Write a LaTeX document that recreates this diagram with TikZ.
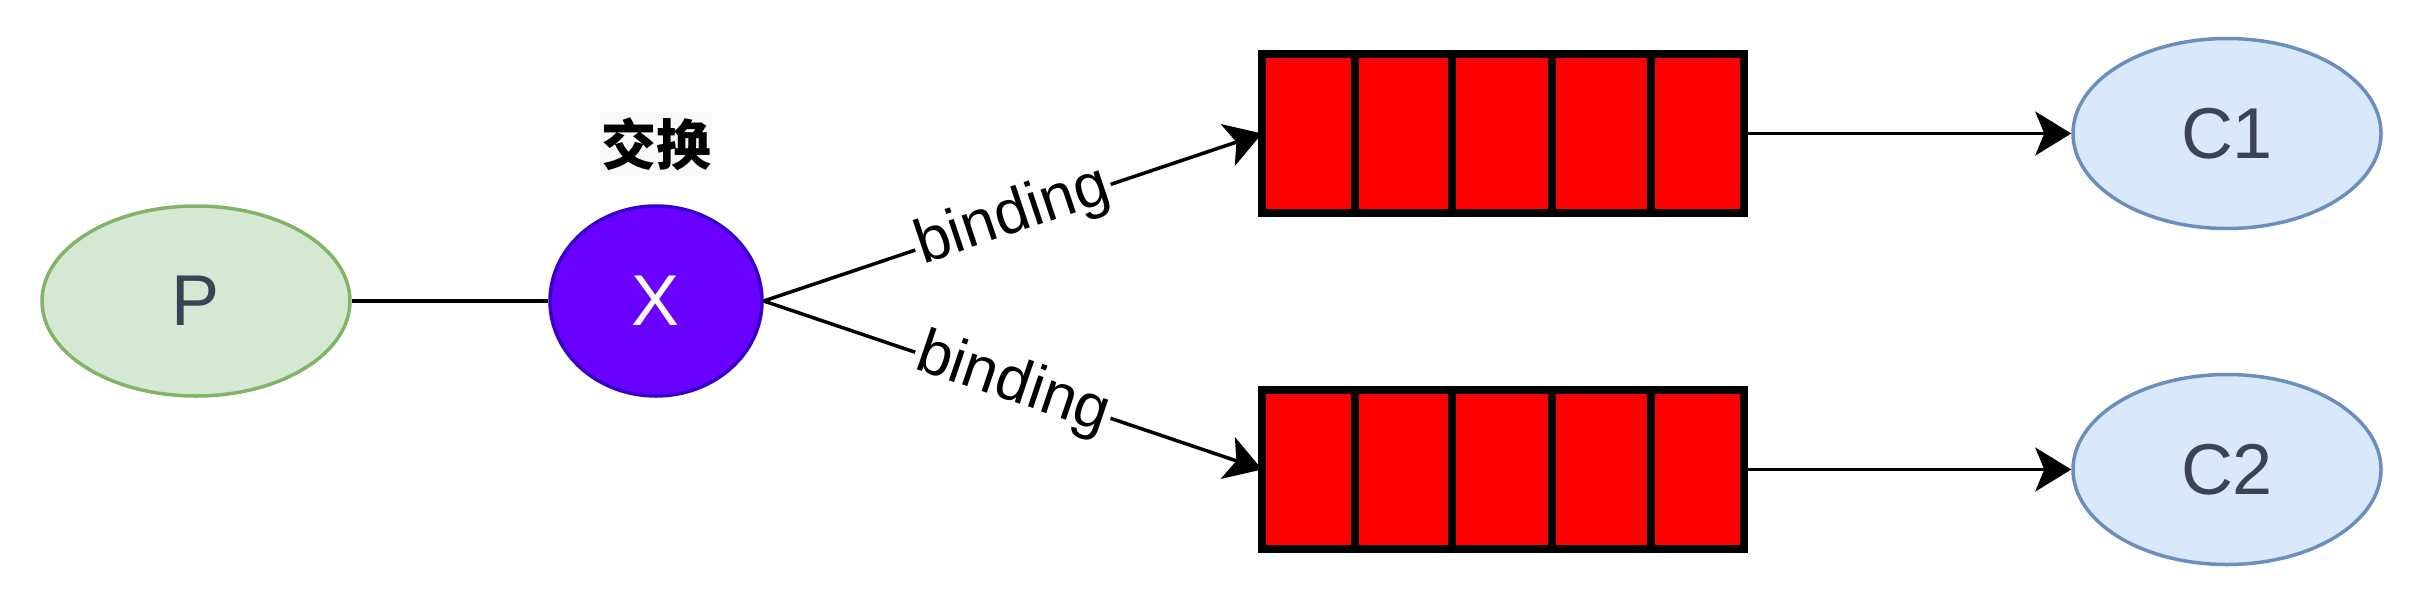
\documentclass[tikz,border=0pt]{standalone}
\usepackage{fontspec}
\setmainfont{Liberation Sans}
\newfontfamily\cjk{Noto Sans CJK SC}
\usetikzlibrary{shapes.geometric,arrows.meta}

\begin{document}
\begin{tikzpicture}[x=1pt, y=-1pt,
	ball/.style={ellipse, draw, line width=3.5pt, minimum width=308pt, minimum height=190pt, inner sep=0pt, text=slate, font=\fontsize{72}{72}\selectfont},
	link/.style={line width=3.5pt},
	tip/.style={-{Stealth[length=36pt, width=44pt, inset=9pt]}},
	tag/.style={midway, sloped, fill=white, inner sep=3pt, font=\fontsize{62}{62}\selectfont}]
	\definecolor{slate}{RGB}{58, 68, 84};
\definecolor{leaf}{RGB}{213, 232, 212};
\definecolor{leafline}{RGB}{130, 179, 102};
\definecolor{sky}{RGB}{218, 232, 252};
\definecolor{skyline}{RGB}{108, 142, 191};
\definecolor{violet}{RGB}{106, 0, 255};
\definecolor{violetline}{RGB}{55, 0, 204};
\definecolor{paper}{RGB}{248, 249, 250};

% \drawqueue#name#y
\def\drawqueue#1#2{
	\node[draw, fill=red, line width=8pt, outer sep=0pt, minimum width=482pt, minimum height=159pt] (#1) at (1503, #2) {};
	\foreach \dx in {93, 190, 290, 389}{
		\draw[line width=8pt] (#1.north west) ++(\dx, 0) -- ++(0, 159); % divider
	}
}

	\useasboundingbox (0, 0) rectangle (2428, 608);

	% producer and exchange
	\node[ball, fill=leaf, draw=leafline] (p) at (196, 301) {P};
	\node[ball, minimum width=212pt, fill=violet, draw=violetline, text=white] (x) at (656, 301) {X};
	\node[fill=paper, inner sep=0pt, minimum width=112pt, minimum height=64pt, font=\cjk\bfseries\fontsize{55}{55}\selectfont] (title) at (656, 144) {交换};

	% queues
	\drawqueue{q1}{133.5}
	\drawqueue{q2}{469.5}

	% consumers
	\node[ball, fill=sky, draw=skyline] (c1) at (2227, 133.5) {C1};
	\node[ball, fill=sky, draw=skyline] (c2) at (2227, 469.5) {C2};

	% connections
	\draw[link] (p) -- (x);
	\draw[link, tip] (x.east) -- (q1.west) node[tag] {binding};
	\draw[link, tip] (x.east) -- (q2.west) node[tag] {binding};
	\draw[link, tip] (q1.east) -- (c1);
	\draw[link, tip] (q2.east) -- (c2);
\end{tikzpicture}
\end{document}
